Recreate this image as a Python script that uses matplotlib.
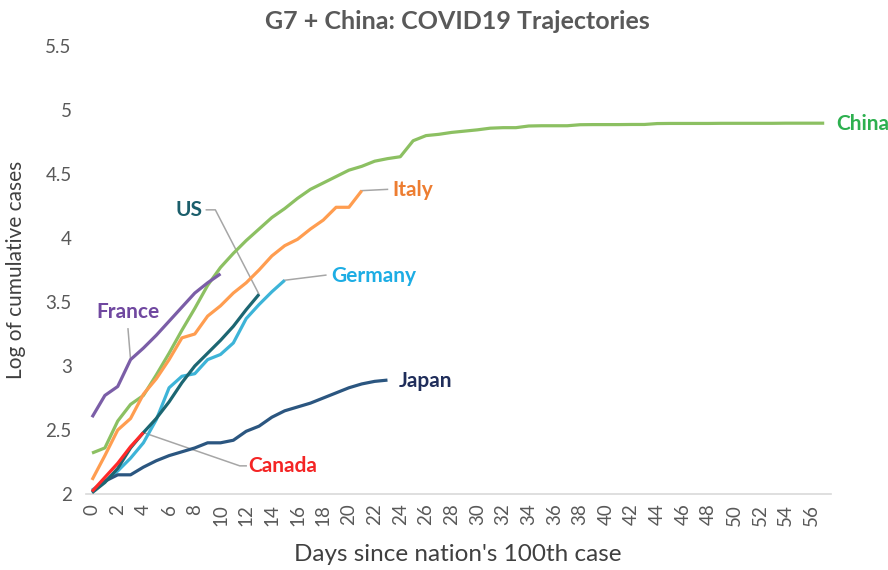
import matplotlib.pyplot as plt
import numpy as np

plt.rcParams['font.family'] = ['Lato', 'DejaVu Sans']

# log10 of cumulative cases, by days since 100th case
china = [2.32, 2.36, 2.57, 2.70, 2.77, 2.93, 3.10, 3.28, 3.45, 3.63, 3.77, 3.88, 3.98, 4.07,
         4.16, 4.23, 4.31, 4.38, 4.43, 4.48, 4.53, 4.56, 4.60, 4.62, 4.635, 4.76, 4.80, 4.81,
         4.825, 4.835, 4.845, 4.858, 4.862, 4.862, 4.875, 4.877, 4.877, 4.877, 4.885, 4.886,
         4.886, 4.886, 4.887, 4.887, 4.894, 4.895, 4.895, 4.895, 4.895, 4.896, 4.896, 4.896,
         4.896, 4.896, 4.897, 4.897, 4.897, 4.897]
italy = [2.11, 2.30, 2.50, 2.59, 2.78, 2.90, 3.05, 3.22, 3.25, 3.39, 3.47, 3.57, 3.65, 3.75,
         3.86, 3.94, 3.99, 4.07, 4.14, 4.24, 4.24, 4.37]
germany = [2.03, 2.10, 2.18, 2.28, 2.40, 2.58, 2.83, 2.92, 2.94, 3.05, 3.09, 3.18, 3.37, 3.48,
           3.58, 3.67]
us = [2.01, 2.09, 2.20, 2.36, 2.48, 2.59, 2.72, 2.87, 3.00, 3.10, 3.20, 3.31, 3.44, 3.56]
france = [2.60, 2.77, 2.84, 3.05, 3.14, 3.24, 3.35, 3.46, 3.57, 3.65, 3.72]
canada = [2.02, 2.13, 2.24, 2.37, 2.48]
japan = [2.02, 2.10, 2.15, 2.15, 2.21, 2.26, 2.30, 2.33, 2.36, 2.40, 2.40, 2.42, 2.49, 2.53,
         2.60, 2.65, 2.68, 2.71, 2.75, 2.79, 2.83, 2.86, 2.88, 2.89]

fig = plt.figure(figsize=(8.88, 5.70), dpi=100)
ax = fig.add_axes([0.0964, 0.1333, 0.839, 0.786])

series = [
    ('China', china, '#8CC062', '#2DB04F'),
    ('Italy', italy, '#FF9D50', '#ED7D31'),
    ('Germany', germany, '#3DB4D8', '#1DADE4'),
    ('France', france, '#7B5EA7', '#7048A0'),
    ('Japan', japan, '#2B5680', '#1F2D5A'),
    ('US', us, '#1C6672', '#1B5E6B'),
    ('Canada', canada, '#FF2A2A', '#F42525'),
]
lab_col = {}
for name, vals, c, lc in series:
    ax.plot(np.arange(len(vals)), vals, color=c, lw=2.3, solid_capstyle='butt', zorder=3)
    lab_col[name] = lc

lead = dict(color='#A6A6A6', lw=1.1, zorder=2)
tkw = dict(fontsize=15, fontweight='bold', va='center')

# China, Japan, Italy, Germany labels to the right of line ends
ax.text(57.9, 4.89, 'China', color=lab_col['China'], ha='left', clip_on=False, **tkw)
ax.text(23.9, 2.885, 'Japan', color=lab_col['Japan'], ha='left', **tkw)
ax.plot([21, 23.0], [italy[-1], 4.38], **lead)
ax.text(23.4, 4.375, 'Italy', color=lab_col['Italy'], ha='left', **tkw)
ax.plot([15, 18.2], [germany[-1], 3.71], **lead)
ax.text(18.6, 3.70, 'Germany', color=lab_col['Germany'], ha='left', **tkw)
# US, France, Canada with leader lines
ax.plot([13, 9.6, 8.9], [us[-1], 4.22, 4.22], **lead)
ax.text(8.6, 4.22, 'US', color=lab_col['US'], ha='right', **tkw)
ax.plot([3, 2.8], [france[3], 3.29], **lead)
ax.text(2.8, 3.42, 'France', color=lab_col['France'], ha='center', **tkw)
ax.plot([4, 11.5, 12.0], [canada[-1], 2.22, 2.22], **lead)
ax.text(12.2, 2.22, 'Canada', color=lab_col['Canada'], ha='left', **tkw)

ax.set_xlim(-0.5, 57.5)
ax.set_ylim(2, 5.5)
ax.set_xticks(np.arange(0, 57, 2))
ax.set_xticklabels([str(d) for d in range(0, 57, 2)], rotation=90)
ax.set_yticks(np.arange(2, 5.51, 0.5))
ax.set_yticklabels(['2', '2.5', '3', '3.5', '4', '4.5', '5', '5.5'])
ax.tick_params(axis='both', length=0, labelsize=13.5, colors='#595959')
ax.tick_params(axis='y', pad=10)
ax.tick_params(axis='x', pad=7)
for s in ['top', 'right', 'left']:
    ax.spines[s].set_visible(False)
ax.spines['bottom'].set_color('#D9D9D9')
ax.spines['bottom'].set_linewidth(1.2)

ax.set_xlabel("Days since nation's 100th case", fontsize=17.5, color='#404040', labelpad=13)
ax.set_ylabel('Log of cumulative cases', fontsize=15, color='#404040', labelpad=14)
fig.text(0.515, 0.963, 'G7 + China: COVID19 Trajectories', ha='center', va='center',
         fontsize=18, fontweight='bold', color='#595959')

fig.savefig('out.png', dpi=100)
